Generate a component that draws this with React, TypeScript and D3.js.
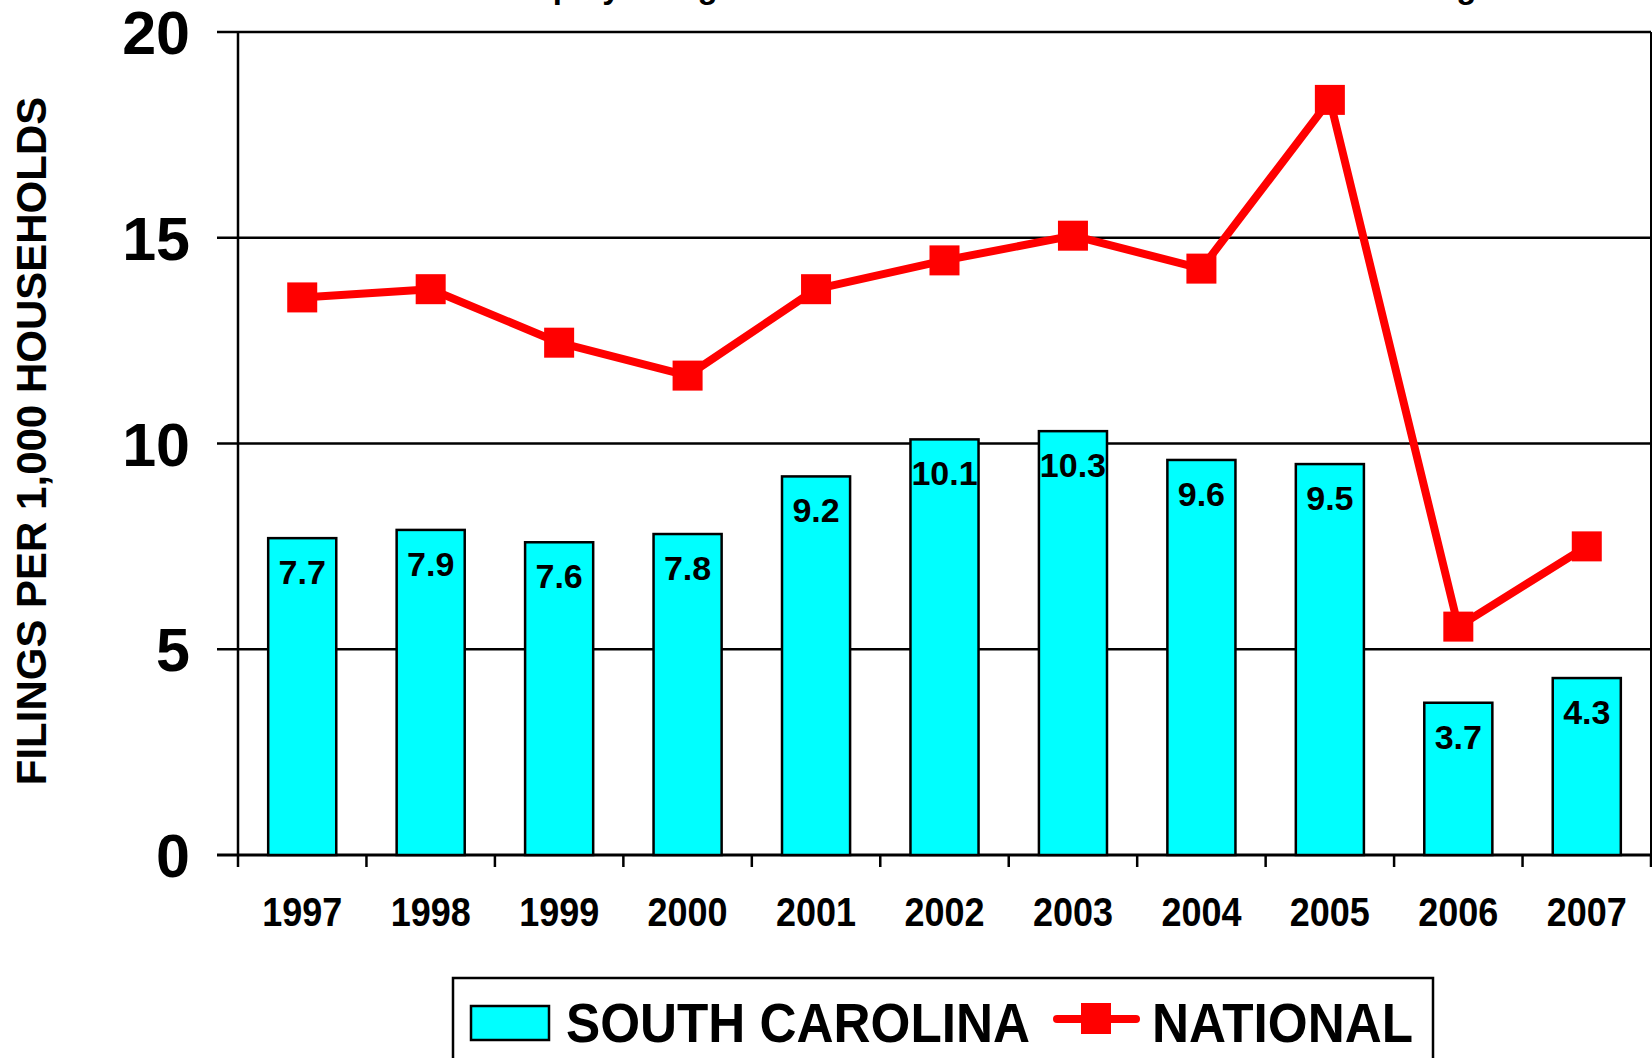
import React, { useEffect } from "react";
import * as d3 from "d3";

const years = ["1997", "1998", "1999", "2000", "2001", "2002", "2003", "2004", "2005", "2006", "2007"];
const southCarolina = [7.7, 7.9, 7.6, 7.8, 9.2, 10.1, 10.3, 9.6, 9.5, 3.7, 4.3];
const national = [13.55, 13.75, 12.45, 11.65, 13.75, 14.45, 15.05, 14.25, 18.35, 5.55, 7.5];
const yTicks = [0, 5, 10, 15, 20];
const yTitle = "FILINGS PER 1,000 HOUSEHOLDS";
const chartTitle = "Bankruptcy Filings Per 1000 Households: S.C. vs. National Average";
const seriesNames = ["SOUTH CAROLINA", "NATIONAL"];

const W = 1652;
const H = 1058;
const FONT = "'Liberation Sans', Arial, Helvetica, sans-serif";
const CYAN = "#00FFFF";
const RED = "#FF0000";

export default function App() {
  useEffect(() => {
    document.body.style.margin = "0";
    document.body.style.overflow = "hidden";
  }, []);

  const left = 238;
  const right = 1651;
  const top = 32;
  const bottom = 855;

  const x = d3.scaleBand<string>().domain(years).range([left, right]).paddingInner(0.47).paddingOuter(0.235);
  const y = d3.scaleLinear().domain([0, 20]).range([bottom, top]);
  const step = x.step();
  const bw = x.bandwidth();
  const cx = (d: string) => (x(d) as number) + bw / 2;

  const line = d3
    .line<number>()
    .x((_, i) => cx(years[i]))
    .y((v) => y(v));

  const boundaries = years.map((d) => (x(d) as number) - (step - bw) / 2);
  boundaries.push(right);

  const markerSize = 30;

  return (
    <svg width={W} height={H} style={{ position: "absolute", left: 0, top: 0, background: "#fff" }} fontFamily={FONT}>
      <rect x={0} y={0} width={W} height={H} fill="#fff" />
      {/* Title (mostly clipped at the top, as in the reference) */}
      <text x={439} y={-2} fontSize={33} fontWeight="bold" fill="#000">
        {chartTitle}
      </text>

      {/* gridlines */}
      {yTicks.map((t) => (
        <line key={"g" + t} x1={217} x2={right} y1={y(t)} y2={y(t)} stroke="#000" strokeWidth={t === 0 ? 3 : 2.5} />
      ))}
      {/* right border */}
      <line x1={right} x2={right} y1={top} y2={bottom} stroke="#000" strokeWidth={2} />
      {/* y axis */}
      <line x1={left} x2={left} y1={top} y2={bottom} stroke="#000" strokeWidth={2.5} />

      {/* y tick labels */}
      {yTicks.map((t) => (
        <text key={"yl" + t} x={190} y={y(t) + 22} textAnchor="end" fontSize={61} fontWeight="bold" fill="#000">
          {t}
        </text>
      ))}

      {/* x ticks */}
      {boundaries.map((b, i) => (
        <line key={"xt" + i} x1={b} x2={b} y1={bottom} y2={bottom + 12} stroke="#000" strokeWidth={2.5} />
      ))}

      {/* x labels */}
      {years.map((d) => (
        <text
          key={"xl" + d}
          x={cx(d)}
          y={926}
          textAnchor="middle"
          fontSize={40}
          fontWeight="bold"
          fill="#000"
          textLength={80}
          lengthAdjust="spacingAndGlyphs"
        >
          {d}
        </text>
      ))}

      {/* bars */}
      {years.map((d, i) => (
        <rect
          key={"b" + d}
          x={x(d)}
          y={y(southCarolina[i])}
          width={bw}
          height={bottom - y(southCarolina[i])}
          fill={CYAN}
          stroke="#000"
          strokeWidth={2.5}
        />
      ))}
      {/* bar labels */}
      {years.map((d, i) => (
        <text
          key={"bl" + d}
          x={cx(d)}
          y={y(southCarolina[i]) + 46}
          textAnchor="middle"
          fontSize={34}
          fontWeight="bold"
          fill="#000"
        >
          {southCarolina[i].toFixed(1)}
        </text>
      ))}

      {/* national line */}
      <path d={line(national) || ""} fill="none" stroke={RED} strokeWidth={8} strokeLinejoin="round" />
      {national.map((v, i) => (
        <rect
          key={"m" + i}
          x={cx(years[i]) - markerSize / 2}
          y={y(v) - markerSize / 2}
          width={markerSize}
          height={markerSize}
          fill={RED}
        />
      ))}

      {/* y title */}
      <text
        transform={`translate(46, 441) rotate(-90)`}
        textAnchor="middle"
        fontSize={42}
        fontWeight="bold"
        fill="#000"
      >
        {yTitle}
      </text>

      {/* legend */}
      <rect x={453} y={978} width={980} height={120} fill="#fff" stroke="#000" strokeWidth={2.5} />
      <rect x={471} y={1006} width={78} height={34} fill={CYAN} stroke="#000" strokeWidth={2.5} />
      <text x={566} y={1042} fontSize={56} fontWeight="bold" fill="#000" textLength={464} lengthAdjust="spacingAndGlyphs">
        {seriesNames[0]}
      </text>
      <line x1={1057} x2={1136} y1={1019} y2={1019} stroke={RED} strokeWidth={8} strokeLinecap="round" />
      <rect x={1081} y={1003} width={30} height={31} fill={RED} />
      <text x={1152} y={1042} fontSize={56} fontWeight="bold" fill="#000" textLength={261} lengthAdjust="spacingAndGlyphs">
        {seriesNames[1]}
      </text>
    </svg>
  );
}
